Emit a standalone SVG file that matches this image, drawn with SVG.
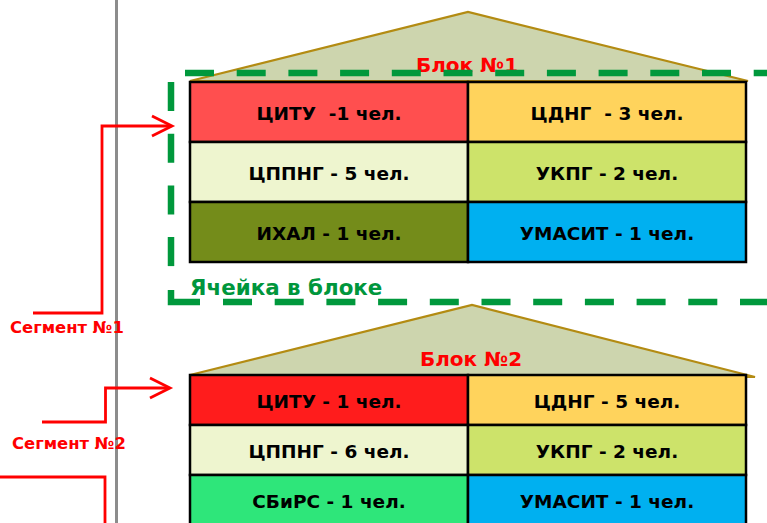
<svg xmlns="http://www.w3.org/2000/svg" width="767" height="523" viewBox="0 0 767 523">
<style>
.roof{fill:#CDD5AE;stroke:#B38B12;stroke-width:2.2;stroke-linejoin:miter}
.cell{stroke:#000;stroke-width:2.5}
.lbl{font-family:"DejaVu Sans",Verdana,sans-serif;font-weight:bold;font-size:18.5px;fill:#000;text-anchor:middle}
.blk{font-family:"DejaVu Sans",Verdana,sans-serif;font-weight:bold;font-size:20px;fill:#FF0000;text-anchor:middle}
.seg{font-family:"DejaVu Sans",Verdana,sans-serif;font-weight:bold;font-size:16.4px;fill:#FF0000}
.cellnote{font-family:"DejaVu Sans",Verdana,sans-serif;font-weight:bold;font-size:21.4px;fill:#00963C}
.dash{fill:none;stroke:#00983C;stroke-width:6.5;stroke-dasharray:29 22.7}
.conn{fill:none;stroke:#FF0000;stroke-width:2.8}
</style>
<rect width="767" height="523" fill="#FFFFFF"/>
<line x1="116.5" y1="0" x2="116.5" y2="523" stroke="#8C8C8C" stroke-width="3"/>

<g id="block1">
  <polygon class="roof" points="190,81 468,12 748,81"/>
  <rect class="cell" x="190" y="82" width="278" height="60" fill="#FF4F4F"/>
  <rect class="cell" x="468" y="82" width="278" height="60" fill="#FFD35C"/>
  <rect class="cell" x="190" y="142" width="278" height="60" fill="#EEF5CF"/>
  <rect class="cell" x="468" y="142" width="278" height="60" fill="#CDE36A"/>
  <rect class="cell" x="190" y="202" width="278" height="60" fill="#748C1A"/>
  <rect class="cell" x="468" y="202" width="278" height="60" fill="#00B0F0"/>
  <text class="lbl" x="329" y="120" xml:space="preserve">ЦИТУ  -1 чел.</text>
  <text class="lbl" x="607" y="120" xml:space="preserve">ЦДНГ  - 3 чел.</text>
  <text class="lbl" x="329" y="180">ЦППНГ - 5 чел.</text>
  <text class="lbl" x="607" y="180">УКПГ - 2 чел.</text>
  <text class="lbl" x="329" y="240">ИХАЛ - 1 чел.</text>
  <text class="lbl" x="607" y="240">УМАСИТ - 1 чел.</text>
  <text class="blk" x="467" y="72">Блок №1</text>
</g>

<g id="cell-frame">
  <line class="dash" x1="185" y1="73" x2="767" y2="73"/>
  <line class="dash" x1="171" y1="82" x2="171" y2="288"/>
  <path d="M171,290 V302 H200" fill="none" stroke="#00983C" stroke-width="6.5"/>
  <line class="dash" x1="223" y1="302" x2="767" y2="302"/>
  <text class="cellnote" x="190" y="295">Ячейка в блоке</text>
</g>

<g id="block2">
  <polygon class="roof" points="190,375 472,305 755,377"/>
  <rect class="cell" x="190" y="375" width="278" height="50" fill="#FF1C1C"/>
  <rect class="cell" x="468" y="375" width="278" height="50" fill="#FFD35C"/>
  <rect class="cell" x="190" y="425" width="278" height="50" fill="#EEF5CF"/>
  <rect class="cell" x="468" y="425" width="278" height="50" fill="#CDE36A"/>
  <rect class="cell" x="190" y="475" width="278" height="50" fill="#2EE67A"/>
  <rect class="cell" x="468" y="475" width="278" height="50" fill="#00B0F0"/>
  <text class="lbl" x="329" y="408">ЦИТУ - 1 чел.</text>
  <text class="lbl" x="607" y="408">ЦДНГ - 5 чел.</text>
  <text class="lbl" x="329" y="458">ЦППНГ - 6 чел.</text>
  <text class="lbl" x="607" y="458">УКПГ - 2 чел.</text>
  <text class="lbl" x="329" y="508">СБиРС - 1 чел.</text>
  <text class="lbl" x="607" y="508">УМАСИТ - 1 чел.</text>
  <text class="blk" x="471" y="366">Блок №2</text>
</g>

<g id="segment1">
  <text class="seg" x="10" y="333">Сегмент №1</text>
</g>
<g id="segment2">
  <text class="seg" x="12" y="449">Сегмент №2</text>
</g>

<g id="connectors">
  <path class="conn" d="M33,313 H102 V126 H171"/>
  <path class="conn" d="M152,116 L172,126 L152,136"/>
  <path class="conn" d="M42,422 H105.5 V388 H169"/>
  <path class="conn" d="M150,378 L170,388 L150,398"/>
  <path class="conn" d="M0,477 H105 V523"/>
</g>
</svg>
